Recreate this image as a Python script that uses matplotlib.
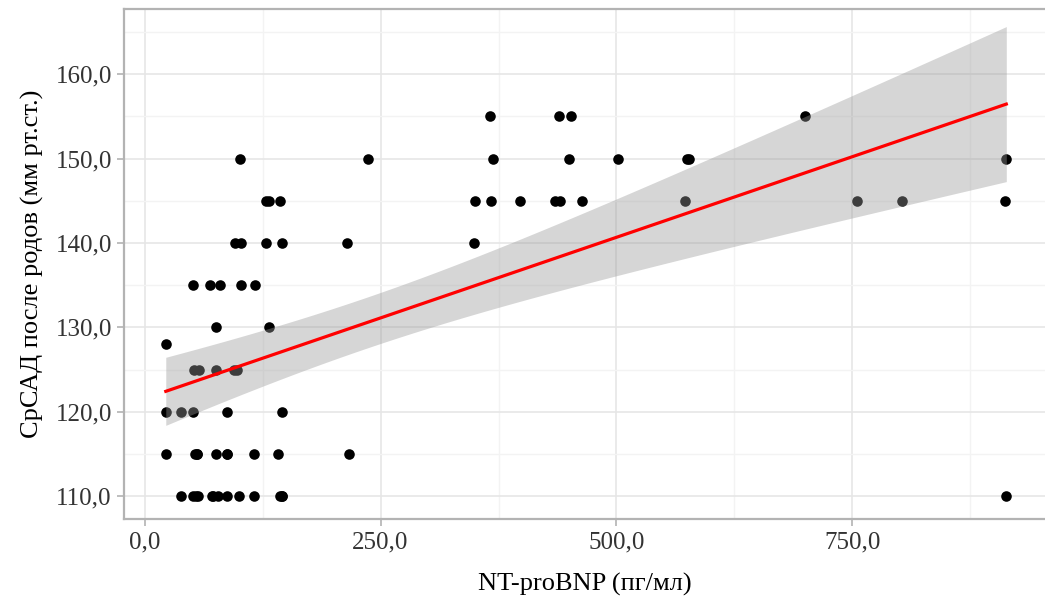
import numpy as np
import matplotlib
matplotlib.use("Agg")
import matplotlib.pyplot as plt
from matplotlib.ticker import FixedLocator, FuncFormatter

# NT-proBNP (pg/ml) vs mean BP after delivery, grouped by BP level
# (some low values repeat: overlapping dots in the picture)
bnp_110 = [39, 51.5, 55, 57, 71, 73, 78, 87, 100, 116, 143, 146, 146, 913]
bnp_115 = [22.5, 53, 56, 56, 75.5, 87, 87, 116, 141, 217]
bnp_120 = [22.5, 39, 51.5, 87, 146]
bnp_125 = [52.5, 58, 76, 95, 97.5]
bnp_128 = [23]
bnp_130 = [76, 132]
bnp_135 = [51, 69.5, 80, 102, 117]
bnp_140 = [96, 102, 128.5, 145.5, 214.5, 349]
bnp_145 = [128.5, 132, 144, 350.5, 367.5, 397.5, 435, 440, 463, 573, 755, 802, 912]
bnp_150 = [101, 236.5, 369, 450, 502, 574.5, 577, 913]
bnp_155 = [366, 439, 452, 700]

groups = {110: bnp_110, 115: bnp_115, 120: bnp_120, 125: bnp_125, 128: bnp_128,
          130: bnp_130, 135: bnp_135, 140: bnp_140, 145: bnp_145, 150: bnp_150,
          155: bnp_155}

x = np.array([v for k, vals in groups.items() for v in vals], dtype=float)
y = np.array([k for k, vals in groups.items() for v in vals], dtype=float)

# linear fit with 95% confidence band (like geom_smooth(method="lm"))
n = len(x)
b1, b0 = np.polyfit(x, y, 1)
resid = y - (b0 + b1 * x)
s = np.sqrt(np.sum(resid ** 2) / (n - 2))
t_crit = 1.995
xs = np.linspace(x.min(), x.max(), 200)
ys = b0 + b1 * xs
se = s * np.sqrt(1 / n + (xs - x.mean()) ** 2 / np.sum((x - x.mean()) ** 2))
print(n, b0, b1, b0 + b1 * x.min(), b0 + b1 * x.max())

plt.rcParams["font.family"] = ["Liberation Serif", "DejaVu Serif"]

fig = plt.figure(figsize=(10.45, 6.02), dpi=100)
ax = fig.add_axes([0.119, 0.138, 0.881, 0.8466])

ax.scatter(x, y, s=58, color="black", zorder=3, linewidths=0)
ax.fill_between(xs, ys - t_crit * se, ys + t_crit * se, color="#999999",
                alpha=0.4, linewidth=0, zorder=4)
ax.plot(xs, ys, color="#ff0000", linewidth=2.3, zorder=5)

ax.set_xlim(-21.4, 954)
ax.set_ylim(107.3, 167.7)
ax.xaxis.set_major_locator(FixedLocator([0, 250, 500, 750]))
ax.xaxis.set_minor_locator(FixedLocator([125, 375, 625, 875]))
ax.yaxis.set_major_locator(FixedLocator([110, 120, 130, 140, 150, 160]))
ax.yaxis.set_minor_locator(FixedLocator([115, 125, 135, 145, 155, 165]))
fmt = FuncFormatter(lambda v, p: f"{v:.1f}".replace(".", ","))
ax.xaxis.set_major_formatter(fmt)
ax.yaxis.set_major_formatter(fmt)

ax.grid(which="major", color="#e6e6e6", linewidth=1.2, zorder=0)
ax.grid(which="minor", color="#f3f3f3", linewidth=1.0, zorder=0)
ax.set_axisbelow(True)

for side in ["left", "top", "bottom"]:
    ax.spines[side].set_color("#b3b3b3")
    ax.spines[side].set_linewidth(1.6)
ax.spines["right"].set_visible(False)

ax.tick_params(which="major", length=5, width=1.2, color="#b3b3b3",
               labelsize=18, labelcolor="#333333", pad=4)
ax.tick_params(which="minor", length=0)

ax.set_xlabel("NT-proBNP (пг/мл)", fontsize=19, labelpad=14)
ax.set_ylabel("СрСАД после родов (мм рт.ст.)", fontsize=19, labelpad=8)

fig.savefig("out.png", dpi=100)
